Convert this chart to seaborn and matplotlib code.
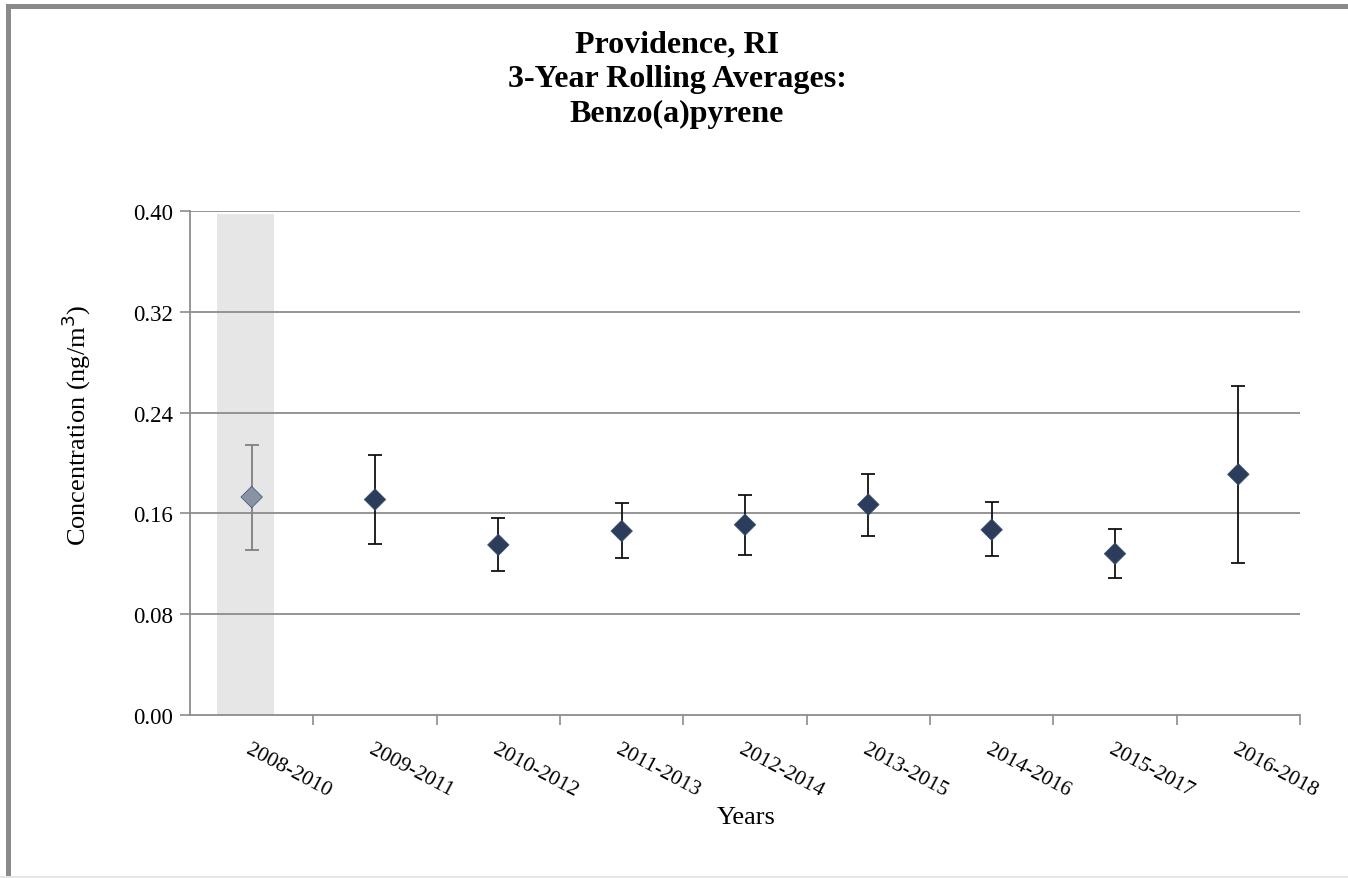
import matplotlib
matplotlib.use("Agg")
import matplotlib.pyplot as plt
import seaborn as sns
import pandas as pd
import numpy as np
from matplotlib.patches import Rectangle

# ---- data ----
periods = ["2008-2010", "2009-2011", "2010-2012", "2011-2013", "2012-2014",
           "2013-2015", "2014-2016", "2015-2017", "2016-2018"]
means = [0.173, 0.171, 0.135, 0.146, 0.151, 0.167, 0.147, 0.128, 0.191]
upper = [0.214, 0.206, 0.156, 0.168, 0.175, 0.191, 0.169, 0.148, 0.261]
lower = [0.131, 0.136, 0.114, 0.125, 0.127, 0.142, 0.126, 0.109, 0.121]
incomplete = [True, False, False, False, False, False, False, False, False]
yticks = [0.00, 0.08, 0.16, 0.24, 0.32, 0.40]
title_lines = ["Providence, RI", "3-Year Rolling Averages:", "Benzo(a)pyrene"]

df = pd.DataFrame({"period": periods, "mean": means, "upper": upper,
                   "lower": lower, "incomplete": incomplete})
df["pos"] = np.arange(len(df))

sns.set_theme(style="white")
plt.rcParams["font.family"] = ["Liberation Serif", "DejaVu Serif"]
plt.rcParams["text.color"] = "black"
plt.rcParams["xtick.color"] = "black"
plt.rcParams["ytick.color"] = "black"
plt.rcParams["axes.labelcolor"] = "black"

W, H = 1348, 879
fig = plt.figure(figsize=(W / 100, H / 100), dpi=100)
ax = fig.add_axes([190 / W, 1 - 716 / H, (1300 - 190) / W, (716 - 212) / H])

# shaded background for first period
ax.axvspan(-0.28, 0.18, ymin=0, ymax=0.995, color="#E6E6E6", zorder=0, lw=0)

grid_c = "#8C8C8C"
for yv in yticks[1:]:
    ax.axhline(yv, color=grid_c, lw=1.3, zorder=1)

# error bars
for inc, col in [(True, "#808080"), (False, "#111111")]:
    sub = df[df["incomplete"] == inc]
    ax.errorbar(sub["pos"], sub["mean"],
                yerr=[sub["mean"] - sub["lower"], sub["upper"] - sub["mean"]],
                fmt="none", ecolor=col, elinewidth=1.3, capsize=4.7, capthick=1.3,
                zorder=2)

sns.scatterplot(data=df, x="pos", y="mean", hue="incomplete",
                palette={True: "#8A93A3", False: "#2C3D5C"},
                marker="D", s=120, edgecolor="#3A4F74", linewidth=0.5,
                legend=False, zorder=3, ax=ax)

ax.set_xlim(-0.5, len(df) - 0.5)
ax.set_ylim(0, 0.40)
ax.set_yticks(yticks)
ax.set_yticklabels([f"{v:.2f}" for v in yticks], fontsize=16.5)
ax.tick_params(axis="y", length=7, width=1.2, color=grid_c, pad=5, left=True)

ax.set_xticks(np.arange(len(df)) + 0.5)
ax.set_xticklabels([])
ax.tick_params(axis="x", which="major", length=7, width=1.2, color=grid_c, bottom=True)
ax.set_xticks(np.arange(len(df)), minor=True)
ax.set_xticklabels(periods, minor=True, fontsize=15.5, rotation=-28,
                   ha="left", va="top", rotation_mode="anchor")
ax.tick_params(axis="x", which="minor", length=0, pad=18)

for s in ["top", "right"]:
    ax.spines[s].set_visible(False)
ax.spines["left"].set_color(grid_c)
ax.spines["bottom"].set_color(grid_c)
ax.spines["left"].set_linewidth(1.3)
ax.spines["bottom"].set_linewidth(1.3)

ax.set_xlabel("")
ax.set_ylabel("")
fig.text(746 / W, 1 - 818 / H, "Years", ha="center", va="center", fontsize=19)
fig.text(76 / W, 1 - 425 / H, "Concentration (ng/m$^3$)", rotation=90,
         ha="center", va="center", fontsize=19)

for line, yc in zip(title_lines, [45, 80, 114]):
    fig.text(677 / W, 1 - yc / H, line, ha="center", va="center",
             fontsize=23, fontweight="bold")

# figure frame
fig.patches.append(Rectangle((6 / W, 0), 5 / W, 1 - 5 / H, transform=fig.transFigure,
                             color="#8A8A8A", lw=0, zorder=10))
fig.patches.append(Rectangle((6 / W, 1 - 10 / H), 1 - 6 / W, 5 / H,
                             transform=fig.transFigure, color="#8A8A8A", lw=0, zorder=10))
fig.patches.append(Rectangle((0, 0), 1, 2 / H, transform=fig.transFigure,
                             color="#E6E6E6", lw=0, zorder=10))

fig.savefig("out.png", dpi=100)
